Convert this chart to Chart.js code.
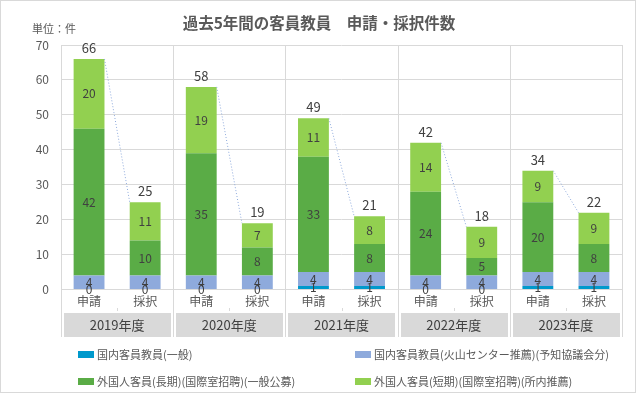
<!DOCTYPE html>
<html>
<head>
<meta charset="utf-8">
<script src="https://cdn.jsdelivr.net/npm/chart.js@4"></script>
<style>
  html, body { margin: 0; padding: 0; background: #fff; }
  #wrap { position: relative; width: 636px; height: 393px; box-sizing: border-box; border: 1px solid #d9d9d9; }
  canvas { position: absolute; left: -1px; top: -1px; }
</style>
</head>
<body>
<div id="wrap"><canvas id="chart" width="636" height="393"></canvas></div>
<script>
const categories = ['申請', '採択', '申請', '採択', '申請', '採択', '申請', '採択', '申請', '採択'];
const years = ['2019年度', '2020年度', '2021年度', '2022年度', '2023年度'];
const seriesNames = [
  '国内客員教員(一般)',
  '国内客員教員(火山センター推薦)(予知協議会分)',
  '外国人客員(長期)(国際室招聘)(一般公募)',
  '外国人客員(短期)(国際室招聘)(所内推薦)'
];
const domesticGeneral = [0, 0, 0, 0, 1, 1, 0, 0, 1, 1];
const domesticVolcano = [4, 4, 4, 4, 4, 4, 4, 4, 4, 4];
const foreignLong = [42, 10, 35, 8, 33, 8, 24, 5, 20, 8];
const foreignShort = [20, 11, 19, 7, 11, 8, 14, 9, 9, 9];
const yTicks = [0, 10, 20, 30, 40, 50, 60, 70];

const colors = ['#0099cc', '#8eaadc', '#5aac46', '#92d050'];
const FONT = '"Noto Sans CJK JP", "Noto Sans", sans-serif';

const series = [domesticGeneral, domesticVolcano, foreignLong, foreignShort];
const totals = categories.map((c, i) => series.reduce((s, arr) => s + arr[i], 0));

// labels, totals and the dotted series lines
const labelPlugin = {
  id: 'labels',
  afterDatasetsDraw(chart) {
    const ctx = chart.ctx;
    const y = chart.scales.y;
    ctx.save();
    ctx.font = '12px ' + FONT;
    ctx.fillStyle = '#404040';
    ctx.textAlign = 'center';
    ctx.textBaseline = 'middle';
    chart.data.datasets.forEach((ds, di) => {
      chart.getDatasetMeta(di).data.forEach((bar, i) => {
        ctx.fillText(ds.data[i], bar.x, (bar.y + bar.base) / 2);
      });
    });

    const top = chart.getDatasetMeta(chart.data.datasets.length - 1).data;
    ctx.font = '13px ' + FONT;
    totals.forEach((t, i) => {
      ctx.fillText(t, top[i].x, y.getPixelForValue(t) - 11);
    });

    // series lines between 申請 and 採択 in each year
    ctx.strokeStyle = '#8eaadc';
    ctx.lineWidth = 1;
    ctx.setLineDash([1, 2]);
    for (let i = 0; i < top.length; i += 2) {
      const a = top[i], b = top[i + 1];
      ctx.beginPath();
      ctx.moveTo(a.x + a.width / 2, y.getPixelForValue(totals[i]));
      ctx.lineTo(b.x - b.width / 2, y.getPixelForValue(totals[i + 1]));
      ctx.stroke();
    }
    ctx.restore();
  }
};

// title, unit, year boxes, separators and legend
const framePlugin = {
  id: 'frame',
  beforeDatasetsDraw(chart) {
    const ctx = chart.ctx;
    const area = chart.chartArea;
    const step = (area.right - area.left) / years.length;
    ctx.save();
    ctx.strokeStyle = '#d9d9d9';
    ctx.lineWidth = 1;
    for (let i = 0; i <= years.length; i++) {
      const x = Math.round(area.left + step * i) + 0.5;
      ctx.beginPath();
      ctx.moveTo(x, area.top);
      ctx.lineTo(x, 337);
      ctx.stroke();
      if (i < years.length) {
        const m = Math.round(area.left + step * (i + 0.5)) + 0.5;
        ctx.beginPath();
        ctx.moveTo(m, 308);
        ctx.lineTo(m, 311);
        ctx.stroke();
      }
    }
    ctx.restore();
  },
  afterDraw(chart) {
    const ctx = chart.ctx;
    const area = chart.chartArea;
    const step = (area.right - area.left) / years.length;
    ctx.save();

    ctx.fillStyle = '#595959';
    ctx.font = 'bold 15.5px ' + FONT;
    ctx.textAlign = 'center';
    ctx.textBaseline = 'middle';
    ctx.fillText('過去5年間の客員教員　申請・採択件数', 319, 23);

    ctx.font = '11px ' + FONT;
    ctx.textAlign = 'left';
    ctx.fillText('単位：件', 32, 29);

    years.forEach((yr, i) => {
      const l = area.left + step * i;
      ctx.fillStyle = '#d9d9d9';
      ctx.fillRect(Math.round(l) + 3, 313, Math.round(step) - 5, 24);
      ctx.fillStyle = '#404040';
      ctx.font = '13px ' + FONT;
      ctx.textAlign = 'center';
      ctx.fillText(yr, l + step / 2, 325);
    });

    const legendX = [78, 355];
    const legendY = [354, 381];
    ctx.font = '11px ' + FONT;
    ctx.textAlign = 'left';
    chart.data.datasets.forEach((ds, i) => {
      const x = legendX[i % 2], yy = legendY[Math.floor(i / 2)];
      ctx.fillStyle = ds.backgroundColor;
      ctx.fillRect(x, yy - 3, 16, 7);
      ctx.fillStyle = '#595959';
      ctx.fillText(ds.label, x + 19, yy + 0.5);
    });
    ctx.restore();
  }
};

new Chart(document.getElementById('chart'), {
  type: 'bar',
  data: {
    labels: categories,
    datasets: series.map((data, i) => ({
      label: seriesNames[i],
      data: data,
      backgroundColor: colors[i],
      borderWidth: 0,
      categoryPercentage: 1,
      barPercentage: 0.55
    }))
  },
  options: {
    responsive: false,
    animation: false,
    layout: { padding: { top: 45, right: 14, bottom: 83.5, left: 0 } },
    plugins: {
      legend: { display: false },
      tooltip: { enabled: false },
      title: { display: false }
    },
    scales: {
      x: {
        stacked: true,
        grid: { display: false },
        border: { display: false },
        ticks: { color: '#595959', font: { family: FONT, size: 12 }, padding: -3, maxRotation: 0 },
        afterFit: s => { s.height = 20; }
      },
      y: {
        stacked: true,
        min: 0,
        max: 70,
        afterBuildTicks: s => { s.ticks = yTicks.map(v => ({ value: v })); },
        grid: { color: '#d9d9d9', drawTicks: false },
        border: { display: false },
        ticks: { color: '#595959', font: { family: FONT, size: 12 }, padding: 12 },
        afterFit: s => { s.width = 61; }
      }
    }
  },
  plugins: [framePlugin, labelPlugin]
});
</script>
</body>
</html>
